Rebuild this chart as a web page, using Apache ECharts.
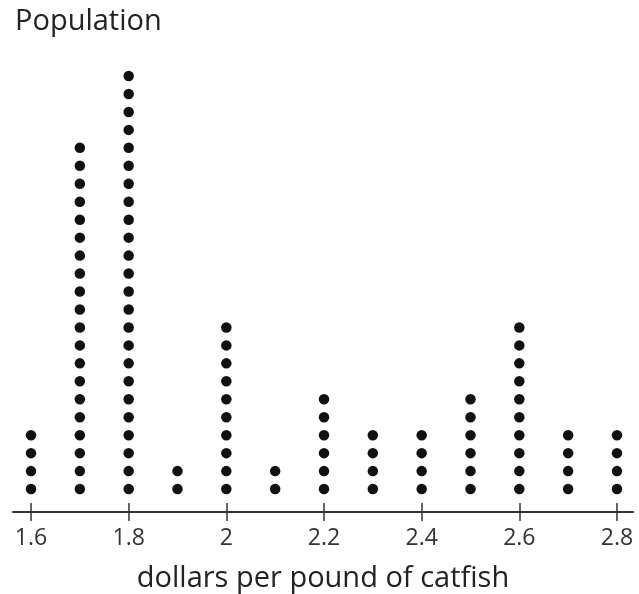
<!DOCTYPE html>
<html><head><meta charset="utf-8">
<script src="https://cdn.jsdelivr.net/npm/echarts@6/dist/echarts.min.js"></script>
<style>html,body{margin:0;padding:0;background:#fff}#c{width:639px;height:594px}</style>
</head><body><div id="c"></div>
<script>
const prices = [1.6, 1.7, 1.8, 1.9, 2.0, 2.1, 2.2, 2.3, 2.4, 2.5, 2.6, 2.7, 2.8];
const counts = [4, 20, 24, 2, 10, 2, 6, 4, 4, 6, 10, 4, 4];
const tickValues = [1.6, 1.8, 2.0, 2.2, 2.4, 2.6, 2.8];
const tickLabels = ['1.6', '1.8', '2', '2.2', '2.4', '2.6', '2.8'];

const points = [];
prices.forEach((p, i) => { for (let k = 1; k <= counts[i]; k++) points.push([p, k]); });
const fmt = v => { const i = tickValues.findIndex(t => Math.abs(t - v) < 1e-6); return i >= 0 ? tickLabels[i] : ''; };
const font = '"Open Sans", "Noto Sans", sans-serif';
const chart = echarts.init(document.getElementById('c'));
const xMin = 1.5631, xMax = 2.8328;
chart.setOption({
  animation: false,
  title: { text: 'Population', left: 10, top: 2, textStyle: { fontSize: 29, fontWeight: 'normal', color: '#222', fontFamily: font } },
  grid: { left: 13, right: 6, top: 76, bottom: 82, outerBoundsMode: 'none', containLabel: false },
  xAxis: [{
    type: 'value', min: xMin, max: xMax, position: 'bottom',
    axisLine: { show: true, onZero: false, lineStyle: { color: '#333', width: 2 } },
    axisTick: { show: true, customValues: tickValues, length: 9, inside: false, lineStyle: { color: '#333', width: 1.5 } },
    axisLabel: { customValues: tickValues, formatter: fmt, fontSize: 23, color: '#333', margin: 15, fontFamily: font },
    splitLine: { show: false },
    name: 'dollars per pound of catfish', nameLocation: 'middle', nameGap: 52,
    nameTextStyle: { fontSize: 29, color: '#222', fontFamily: font }
  }, {
    type: 'value', min: xMin, max: xMax, position: 'bottom',
    axisLine: { show: false, onZero: false },
    axisTick: { show: true, customValues: tickValues, length: 9, inside: true, lineStyle: { color: '#333', width: 1.5 } },
    axisLabel: { show: false }, splitLine: { show: false }
  }],
  yAxis: { type: 'value', min: -0.2778, max: 24, show: false, splitLine: { show: false } },
  series: [{
    type: 'scatter', xAxisIndex: 0, data: points, symbol: 'circle', symbolSize: 10.5,
    itemStyle: { color: '#111', opacity: 1 }
  }]
});
</script></body></html>
